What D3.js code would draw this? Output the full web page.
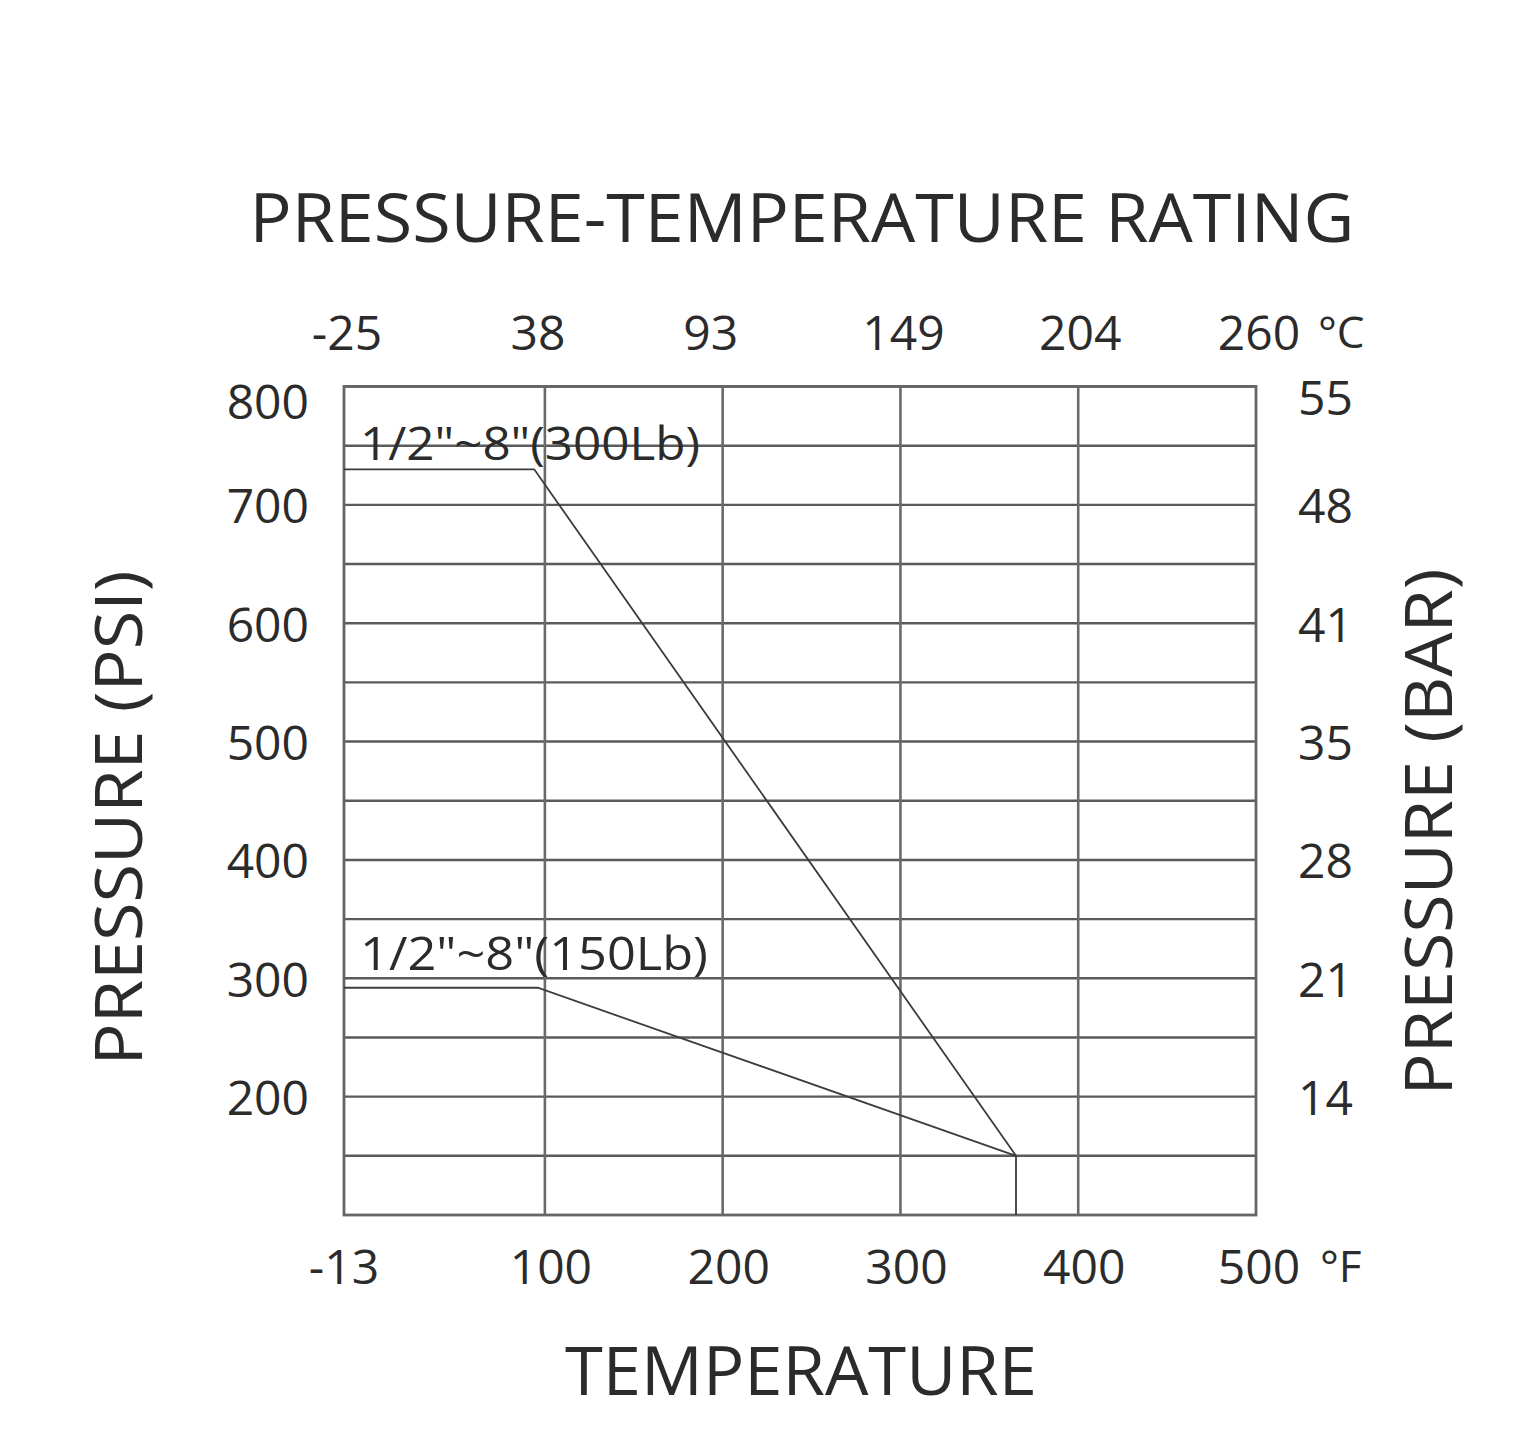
<!DOCTYPE html>
<html>
<head>
<meta charset="utf-8">
<script src="https://cdn.jsdelivr.net/npm/d3@7"></script>
<style>
  html, body { margin: 0; padding: 0; background: #fff; }
  svg text { font-family: "Open Sans", "Noto Sans", sans-serif; fill: #2b2b2b; }
</style>
</head>
<body>
<svg id="chart" width="1516" height="1454"></svg>
<script>
// ---- data ----
const fTicks = [-13, 100, 200, 300, 400, 500];          // bottom axis (°F)
const cTickLabels = ["-25", "38", "93", "149", "204", "260"]; // top axis (°C)
const psiTicks = [800, 700, 600, 500, 400, 300, 200];    // left axis (PSI)
const barTickLabels = ["55", "48", "41", "35", "28", "21", "14"]; // right axis (BAR)
const gridPsi = [150, 200, 250, 300, 350, 400, 450, 500, 550, 600, 650, 700, 750, 800];
const gridF = [100, 200, 300, 400];
const series300Temp = [-13, 94, 365, 365];
const series300Psi = [730, 730, 150, 100];
const series150Temp = [-13, 96, 365];
const series150Psi = [292, 292, 150];
const labels = ["1/2\"~8\"(300Lb)", "1/2\"~8\"(150Lb)"];

// ---- layout ----
const svg = d3.select("#chart");
const x = d3.scaleLinear().domain([-13, 500]).range([344, 1256]);
const y = d3.scaleLinear().domain([100, 800]).range([1215, 386.5]);

// horizontal grid
svg.append("g").selectAll("line").data(gridPsi).join("line")
  .attr("x1", x(-13)).attr("x2", x(500))
  .attr("y1", d => y(d)).attr("y2", d => y(d))
  .attr("stroke", "#5a5a5a").attr("stroke-width", 2.4);

// vertical grid
svg.append("g").selectAll("line").data(gridF).join("line")
  .attr("x1", d => x(d)).attr("x2", d => x(d))
  .attr("y1", y(800)).attr("y2", y(100))
  .attr("stroke", "#6a6a6a").attr("stroke-width", 2.6);

// frame
svg.append("rect")
  .attr("x", x(-13)).attr("y", y(800))
  .attr("width", x(500) - x(-13)).attr("height", y(100) - y(800))
  .attr("fill", "none").attr("stroke", "#666").attr("stroke-width", 2.8);

// series lines
const line = d3.line().x(d => x(d[0])).y(d => y(d[1]));
svg.append("path")
  .attr("d", line(series300Temp.map((t, i) => [t, series300Psi[i]])))
  .attr("fill", "none").attr("stroke", "#3c3c3c").attr("stroke-width", 1.8);
svg.append("path")
  .attr("d", line(series150Temp.map((t, i) => [t, series150Psi[i]])))
  .attr("fill", "none").attr("stroke", "#3c3c3c").attr("stroke-width", 1.8);

// series labels
svg.append("text").attr("x", 360).attr("y", 460)
  .attr("font-size", 46).attr("textLength", 340).attr("lengthAdjust", "spacingAndGlyphs")
  .text(labels[0]);
svg.append("text").attr("x", 360).attr("y", 970)
  .attr("font-size", 46).attr("textLength", 348).attr("lengthAdjust", "spacingAndGlyphs")
  .text(labels[1]);

// left axis labels
svg.append("g").selectAll("text").data(psiTicks).join("text")
  .attr("x", 309).attr("y", d => Math.max(y(d), 400))
  .attr("text-anchor", "end").attr("dominant-baseline", "central")
  .attr("font-size", 48).text(d => d);

// right axis labels
svg.append("g").selectAll("text").data(psiTicks).join("text")
  .attr("x", 1298).attr("y", d => Math.max(y(d), 396))
  .attr("text-anchor", "start").attr("dominant-baseline", "central")
  .attr("font-size", 48).text((d, i) => barTickLabels[i]);

// bottom axis labels
svg.append("g").selectAll("text").data(fTicks).join("text")
  .attr("x", d => d === 500 ? x(d) + 3 : x(d) + (d === -13 ? 0 : 6)).attr("y", 1265)
  .attr("text-anchor", "middle").attr("dominant-baseline", "central")
  .attr("font-size", 48).text(d => d);
svg.append("text").attr("x", 1320).attr("y", 1265).attr("dominant-baseline", "central")
  .attr("font-size", 44).text("°F");

// top axis labels
svg.append("g").selectAll("text").data(fTicks).join("text")
  .attr("x", (d, i) => x(d) + [3, -7, -12, 3, 2, 3][i]).attr("y", 331)
  .attr("text-anchor", "middle").attr("dominant-baseline", "central")
  .attr("font-size", 48).text((d, i) => cTickLabels[i]);
svg.append("text").attr("x", 1318).attr("y", 331).attr("dominant-baseline", "central")
  .attr("font-size", 44).text("°C");

// titles
svg.append("text").attr("x", 802).attr("y", 242).attr("text-anchor", "middle")
  .attr("font-size", 68).attr("textLength", 1105).attr("lengthAdjust", "spacingAndGlyphs")
  .text("PRESSURE-TEMPERATURE RATING");
svg.append("text").attr("x", 801).attr("y", 1395).attr("text-anchor", "middle")
  .attr("font-size", 68).attr("textLength", 472).attr("lengthAdjust", "spacingAndGlyphs")
  .text("TEMPERATURE");
svg.append("text").attr("transform", "translate(142,818) rotate(-90)")
  .attr("text-anchor", "middle")
  .attr("font-size", 66).attr("textLength", 495).attr("lengthAdjust", "spacingAndGlyphs")
  .text("PRESSURE (PSI)");
svg.append("text").attr("transform", "translate(1452,832) rotate(-90)")
  .attr("text-anchor", "middle")
  .attr("font-size", 66).attr("textLength", 527).attr("lengthAdjust", "spacingAndGlyphs")
  .text("PRESSURE (BAR)");
</script>
</body>
</html>
